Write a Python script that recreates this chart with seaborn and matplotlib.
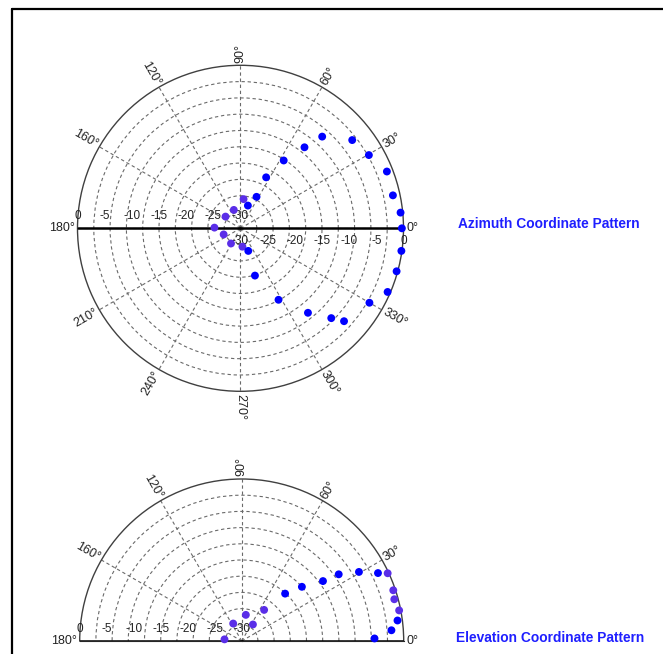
import numpy as np
import pandas as pd
import matplotlib
matplotlib.use("Agg")
import matplotlib.pyplot as plt
from matplotlib.lines import Line2D
import seaborn as sns

sns.set_style("white")
plt.rcParams['font.family'] = ['Liberation Sans', 'DejaVu Sans']

# ---------------- data ----------------
az_angle = [0, 5.6, 12.2, 21.2, 29.7, 38.3, 48.3, 51.7, 57.5, 63.3, 63, 72, 84, 110, 142,
            178.5, 200, 238, 276, 289, 287, 298, 308.6, 315.3, 318.1, 330, 336.6, 344.6, 352]
az_level = [-0.3, -0.4, -1.3, -1.1, -2.8, -3.8, -7.4, -11, -15.2, -19.5, -23.5, -25.6, -24.6,
            -26.4, -26.5, -25.2, -26.7, -26.7, -26.6, -25.6, -20.9, -15.1, -10.1, -6.5, -4.4,
            -2.6, -0.5, -0.2, -0.1]
az_kind = ['b'] * 12 + ['p'] * 7 + ['b'] * 10

el_angle = [174.5, 116, 81, 55.8, 54.2, 47.5, 42, 36.4, 34.5, 30.5, 26.5, 24.9, 18.5, 15.3,
            11, 7.5, 4.1, 1.1]
el_level = [-26.8, -26.4, -25.1, -26.3, -22.9, -18.1, -15, -11.3, -8.2, -4.8, -1.8, -0.2,
            -0.4, -0.7, -0.3, -0.9, -2.2, -5.4]
el_kind = ['p'] * 5 + ['b'] * 6 + ['p'] * 4 + ['b'] * 3

r_ticks = [0, -5, -10, -15, -20, -25, -30]
angle_ticks = [0, 30, 60, 90, 120, 150, 180, 210, 240, 270, 300, 330]
angle_labels = ['0°', '30°', '60°', '90°', '120°', '160°', '180°', '210°', '240°', '270°',
                '300°', '330°']
titles = ['Azimuth Coordinate Pattern', 'Elevation Coordinate Pattern']

palette = {'b': '#0000ff', 'p': '#5a2ee8'}
W, H = 663, 654
fig = plt.figure(figsize=(W / 100, H / 100), dpi=100)

# figure border (top & left)
fig.add_artist(Line2D([12 / W, 1], [1 - 9 / H, 1 - 9 / H], color='black', lw=1.6,
                      transform=fig.transFigure))
fig.add_artist(Line2D([12 / W, 12 / W], [0, 1 - 9 / H], color='black', lw=1.6,
                      transform=fig.transFigure))


def style_polar(ax, half):
    ax.set_rlim(-30, 0)
    ax.set_rgrids(np.arange(-27, 0, 3), labels=[])
    ax.set_thetagrids(angle_ticks, labels=[])
    ax.grid(True, linestyle=(0, (3, 2.5)), color='#6a6a6a', lw=0.8)
    ax.spines['polar'].set_color('#404040')
    ax.spines['polar'].set_linewidth(1.0)
    if half:
        ax.set_thetamin(0)
        ax.set_thetamax(180)
        ax.set_aspect('auto')
        ax.spines['start'].set_visible(False)
        ax.spines['end'].set_visible(False)
    ax.set_xlabel('')
    ax.set_ylabel('')
    ax.axvline(0, color='black', lw=1.8, zorder=3)
    ax.axvline(np.pi, color='black', lw=1.8, zorder=3)
    # angle labels
    for a, lab in zip(angle_ticks, angle_labels):
        if half and a > 180:
            continue
        if a == 90:
            rot = 90
        elif a == 270:
            rot = -90
        elif a <= 90:
            rot = a
        elif a < 270:
            rot = a - 180
        else:
            rot = a - 360
        ha = 'left' if np.cos(np.radians(a - rot)) > 0 else 'right'
        t = np.radians(a)
        ax.annotate(lab, (t, 0), xytext=(2 * np.cos(t), 2 * np.sin(t)),
                    textcoords='offset points', rotation=rot, rotation_mode='anchor',
                    ha=ha, va='center', fontsize=9, color='#222222', annotation_clip=False)
    # radial labels
    for rv in r_ticks:
        ax.annotate(str(rv), (np.pi, rv), xytext=(0, 9), textcoords='offset points',
                    ha='center', va='center', fontsize=8.5, color='#222222',
                    annotation_clip=False)
        if not half:
            ax.annotate(str(rv), (0, rv), xytext=(0, -9.5), textcoords='offset points',
                        ha='center', va='center', fontsize=8.5, color='#222222',
                        annotation_clip=False)


# ---------------- azimuth ----------------
R1 = 163
cx1, cy1 = 240.5, 228.3
ax1 = fig.add_axes([(cx1 - R1) / W, (H - cy1 - R1) / H, 2 * R1 / W, 2 * R1 / H],
                   projection='polar')
df_az = pd.DataFrame({'theta': np.radians(az_angle), 'r': az_level, 'kind': az_kind})
sns.scatterplot(data=df_az, x='theta', y='r', hue='kind', palette=palette, s=32,
                edgecolor='none', legend=False, ax=ax1, zorder=4, clip_on=False)
style_polar(ax1, half=False)

# ---------------- elevation ----------------
# half-disc wedge occupies the middle half (vertically) of a square axes box
R2 = 162
cx2, cy2 = 241.7, 641
ax2 = fig.add_axes([(cx2 - R2) / W, (H - cy2 - R2 / 2) / H, 2 * R2 / W, 2 * R2 / H],
                   projection='polar')
df_el = pd.DataFrame({'theta': np.radians(el_angle), 'r': el_level, 'kind': el_kind})
sns.scatterplot(data=df_el, x='theta', y='r', hue='kind', palette=palette, s=32,
                edgecolor='none', legend=False, ax=ax2, zorder=4, clip_on=False)
style_polar(ax2, half=True)

fig.text(458 / W, 1 - 224 / H, titles[0], color='#1f1fff', fontsize=9.9,
         fontweight='bold', ha='left', va='center')
fig.text(456 / W, 1 - 638 / H, titles[1], color='#1f1fff', fontsize=9.9,
         fontweight='bold', ha='left', va='center')

fig.savefig('out.png', dpi=100)
